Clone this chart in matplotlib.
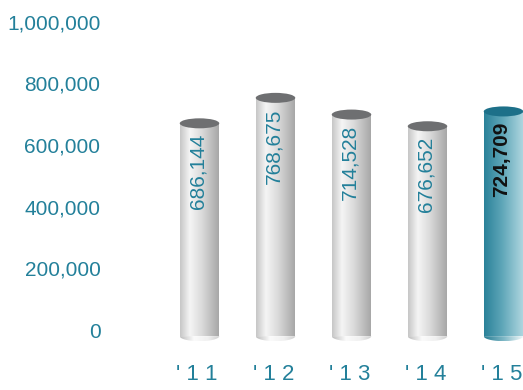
import numpy as np
import matplotlib
matplotlib.use("Agg")
import matplotlib.pyplot as plt
from matplotlib.colors import LinearSegmentedColormap
from matplotlib.patches import Ellipse, Polygon
from matplotlib.transforms import blended_transform_factory

plt.rcParams['font.family'] = ['Liberation Sans', 'DejaVu Sans']

# data
years = ["'11", "'12", "'13", "'14", "'15"]
values = [686144, 768675, 714528, 676652, 724709]
yticks = [0, 200000, 400000, 600000, 800000, 1000000]

teal = '#23809a'

silver = LinearSegmentedColormap.from_list(
    'silver', [(0, '#c6c6c6'), (0.25, '#f5f5f5'), (0.55, '#dadada'), (1, '#a4a4a4')])
silver_cap = LinearSegmentedColormap.from_list(
    'silver_cap', [(0, '#bdbdbd'), (0.35, '#fbfbfb'), (0.7, '#f0f0f0'), (1, '#cfcfcf')])
teal_body = LinearSegmentedColormap.from_list(
    'teal_body', [(0, '#2a8299'), (0.45, '#5ea6b8'), (1, '#b2d8e1')])
teal_cap = LinearSegmentedColormap.from_list(
    'teal_cap', [(0, '#2a7f95'), (0.5, '#7fb8c6'), (1, '#f4fafb')])

fig = plt.figure(figsize=(5.23, 3.90), dpi=100)
# zero line at 60px from the bottom, 1,000,000 at 368.5px
ax = fig.add_axes([161.5 / 523, 0, 380 / 523, 1])
px = 308.5 / 1e6
ax.set_xlim(-0.5, 4.5)
ax.set_ylim(-60 / px, 1e6 + 21.5 / px)

w = 0.52          # cylinder width
eh = 10 / px      # ellipse height
base = -20000     # cylinder sits a little under the zero line


def gradient(cmap):
    return cmap(np.linspace(0, 1, 256))[None, :, :]


def half_ellipse(xc, yc, n=40):
    t = np.linspace(np.pi, 2 * np.pi, n)
    return np.column_stack([xc + w / 2 * np.cos(t), yc + eh / 2 * np.sin(t)])


for i, (yr, v) in enumerate(zip(years, values)):
    last = i == len(values) - 1
    body_cmap = teal_body if last else silver
    cap_cmap = teal_cap if last else silver_cap
    top_col = '#1d7089' if last else '#6e6f71'

    x0, x1 = i - w / 2, i + w / 2
    yc = v - eh / 2

    # bottom cap
    cap = Polygon(half_ellipse(i, base), closed=True, facecolor='none', edgecolor='none')
    ax.add_patch(cap)
    im = ax.imshow(gradient(cap_cmap), extent=[x0, x1, base - eh / 2, base],
                   aspect='auto', interpolation='bilinear', zorder=2)
    im.set_clip_path(cap)

    # body
    body = Polygon([[x0, base], [x1, base], [x1, yc], [x0, yc]], closed=True,
                   facecolor='none', edgecolor='none')
    ax.add_patch(body)
    im = ax.imshow(gradient(body_cmap), extent=[x0, x1, base, yc],
                   aspect='auto', interpolation='bilinear', zorder=3)
    im.set_clip_path(body)

    # top
    ax.add_patch(Ellipse((i, yc), w, eh, facecolor=top_col, edgecolor='none', zorder=4))

    ax.annotate(f"{v:,}", (i, v), xytext=(-1, -11), textcoords='offset points',
                rotation=90, ha='center', va='top', fontsize=15,
                color='#111111' if last else teal,
                fontweight='bold' if last else 'normal', zorder=5)

    ax.text(i - 0.03, 16 / 390, " ".join(yr),
            transform=blended_transform_factory(ax.transData, ax.transAxes),
            ha='center', va='center', fontsize=16, color=teal)

ax.set_xlim(-0.5, 4.5)
ax.set_ylim(-60 / px, 1e6 + 21.5 / px)
ax.set_xticks([])
ax.set_yticks(yticks, labels=[f"{t:,}" for t in yticks])
ax.tick_params(axis='y', length=0, pad=44, labelsize=15, labelcolor=teal)
for s in ax.spines.values():
    s.set_visible(False)
ax.patch.set_alpha(0)

fig.savefig('out.png', dpi=100)
